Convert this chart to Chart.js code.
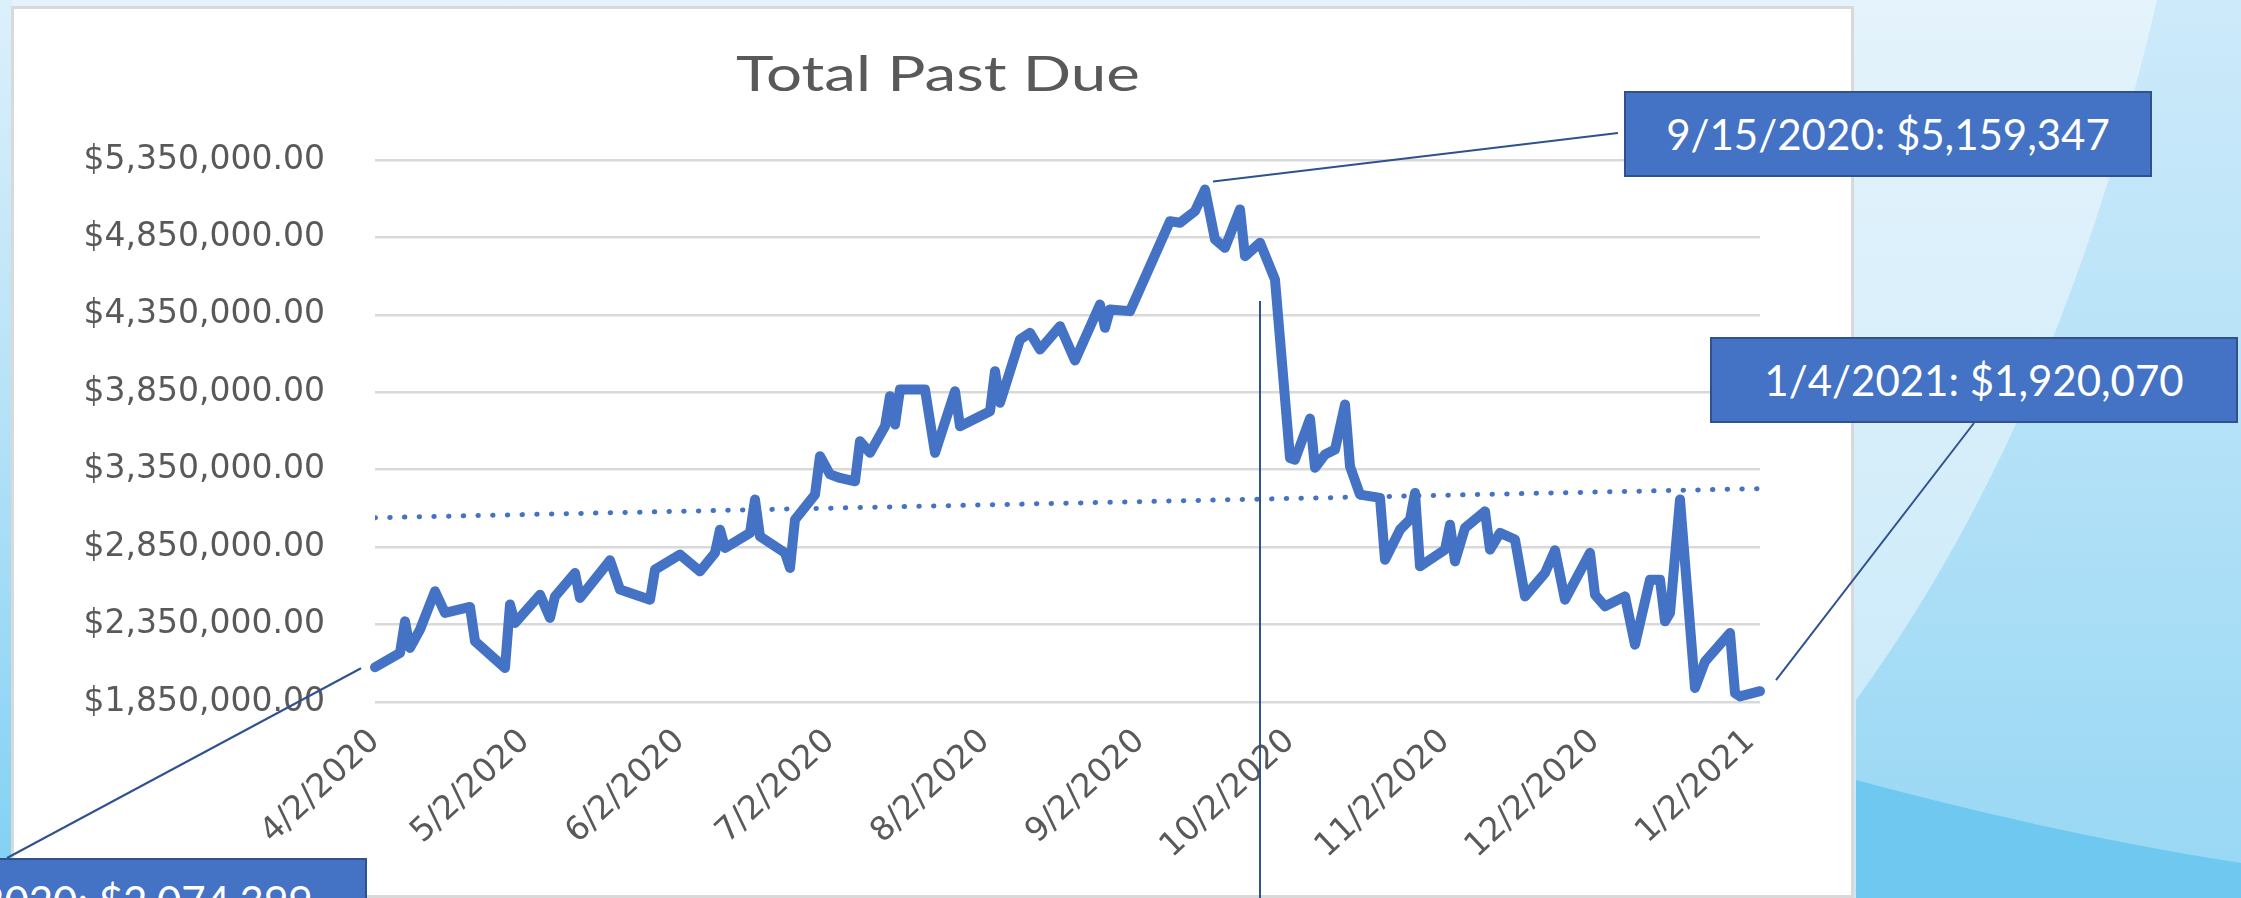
<!DOCTYPE html>
<html>
<head>
<meta charset="utf-8">
<script src="https://cdn.jsdelivr.net/npm/chart.js@4.4.1/dist/chart.umd.min.js"></script>
<style>
html,body{margin:0;padding:0;}
body{width:2241px;height:898px;overflow:hidden;position:relative;background:linear-gradient(180deg,#e4f3fc 0%,#d6eefa 50%,#c6e8f9 100%);font-family:Lato,sans-serif;}
#bg{position:absolute;left:0;top:0;}
#panel{position:absolute;left:11px;top:6px;width:1843px;height:892px;background:#fff;border:3px solid #d9d9d9;box-sizing:border-box;}
#c{position:absolute;left:0;top:0;}
#title{position:absolute;left:938px;top:48px;font-family:Lato,sans-serif;font-size:49px;line-height:49px;color:#595959;white-space:nowrap;transform:translateX(-50%) scaleX(1.3);}
.box{position:absolute;width:528px;height:86px;background:#4472C4;border:2px solid #2F528F;box-sizing:border-box;color:#fff;font-family:Lato,sans-serif;font-size:42px;display:flex;align-items:center;justify-content:center;white-space:nowrap;}
</style>
</head>
<body>
<svg id="bg" width="2241" height="898">
  <defs>
    <linearGradient id="leftStrip" x1="0" y1="0" x2="0" y2="1">
      <stop offset="0" stop-color="#dcf0fb"/>
      <stop offset="0.45" stop-color="#b6e2f7"/>
      <stop offset="1" stop-color="#7fd0f3"/>
    </linearGradient>
    <linearGradient id="midBlue" x1="0" y1="0" x2="0" y2="1">
      <stop offset="0" stop-color="#cdeafa"/>
      <stop offset="0.5" stop-color="#b3e1f7"/>
      <stop offset="1" stop-color="#97d7f4"/>
    </linearGradient>
  </defs>
  <rect x="0" y="0" width="12" height="898" fill="url(#leftStrip)"/>
  <path d="M2157 0 Q2060 420 1856 700 L1856 898 L2241 898 L2241 0 Z" fill="url(#midBlue)"/>
  <path d="M1856 780 Q2060 835 2241 863 L2241 898 L1856 898 Z" fill="#6ec8ef"/>
</svg>
<div id="panel"></div>
<canvas id="c" width="2241" height="898"></canvas>
<div id="title">Total Past Due</div>
<div class="box" style="left:1624px;top:91px;">9/15/2020: $5,159,347</div>
<div class="box" style="left:1710px;top:337px;">1/4/2021: $1,920,070</div>
<div class="box" style="left:-161px;top:858px;">4/2/2020: $2,074,399</div>
<script>
// ---- data ----
const dates = ['4/2/2020','4/7/2020','4/8/2020','4/9/2020','4/11/2020','4/14/2020','4/16/2020','4/21/2020','4/22/2020','4/28/2020','4/29/2020','4/30/2020',
'5/5/2020','5/7/2020','5/8/2020','5/12/2020','5/13/2020','5/19/2020','5/21/2020','5/27/2020','5/28/2020',
'6/2/2020','6/6/2020','6/9/2020','6/10/2020','6/11/2020','6/16/2020','6/17/2020','6/18/2020','6/23/2020','6/24/2020','6/25/2020','6/29/2020','6/30/2020',
'7/2/2020','7/4/2020','7/7/2020','7/8/2020','7/10/2020','7/13/2020','7/14/2020','7/15/2020','7/16/2020','7/21/2020','7/23/2020','7/27/2020','7/28/2020',
'8/3/2020','8/4/2020','8/5/2020','8/9/2020','8/11/2020','8/13/2020','8/17/2020','8/20/2020','8/25/2020','8/26/2020','8/27/2020','8/31/2020',
'9/8/2020','9/10/2020','9/13/2020','9/15/2020','9/17/2020','9/19/2020','9/22/2020','9/23/2020','9/26/2020','9/29/2020',
'10/2/2020','10/3/2020','10/6/2020','10/7/2020','10/9/2020','10/11/2020','10/13/2020','10/14/2020','10/16/2020','10/20/2020','10/21/2020','10/24/2020','10/26/2020','10/27/2020','10/28/2020',
'11/2/2020','11/3/2020','11/4/2020','11/6/2020','11/10/2020','11/11/2020','11/13/2020','11/16/2020','11/18/2020','11/22/2020','11/24/2020','11/26/2020',
'12/1/2020','12/2/2020','12/4/2020','12/8/2020','12/10/2020','12/13/2020','12/15/2020','12/16/2020','12/17/2020','12/19/2020','12/22/2020','12/24/2020','12/29/2020','12/30/2020','12/31/2020',
'1/4/2021'];
const values = [2074399,2167000,2371000,2199000,2317000,2565000,2425000,2464000,2242000,2070000,2479000,2360000,
2543000,2393000,2532000,2683000,2522000,2765000,2576000,2511000,2705000,
2802000,2694000,2813000,2963000,2845000,2942000,3157000,2920000,2813000,2716000,3028000,3189000,3437000,
3320000,3297000,3275000,3534000,3459000,3631000,3825000,3642000,3868000,3868000,3459000,3857000,3631000,
3727000,3986000,3782000,4191000,4234000,4126000,4277000,4055000,4417000,4266000,4385000,4374000,
4955000,4945000,5020000,5159347,4837000,4783000,5031000,4729000,4816000,4578000,
3426000,3415000,3680000,3362000,3448000,3480000,3771000,3372000,3189000,3168000,2769000,2963000,3028000,3200000,2726000,
2834000,2995000,2758000,2974000,3081000,2834000,2942000,2899000,2532000,2683000,2830000,2511000,
2813000,2543000,2468000,2532000,2220000,2640000,2640000,2371000,2425000,3157000,1940000,2112000,2296000,1908000,1886000,
1920070];
const trendDates = ['4/2/2020','1/4/2021'];
const trendValues = [3040000,3228000];
const xTickLabels = ['4/2/2020','5/2/2020','6/2/2020','7/2/2020','8/2/2020','9/2/2020','10/2/2020','11/2/2020','12/2/2020','1/2/2021'];
const yTickValues = [1850000,2350000,2850000,3350000,3850000,4350000,4850000,5350000];
// callout leader lines: data point (date,value) -> callout box
const leaders = [
  {date:'9/15/2020', value:5159347, dx:8, dy:-8, toX:1618, toY:133},
  {date:'1/4/2021', value:1920070, dx:16, dy:-11, toX:1974, toY:423},
  {date:'4/2/2020', value:2074399, dx:-14, dy:1, toX:7, toY:858},
  {date:'9/26/2020', value:4440000, dx:0, dy:0, toX:null, toY:898}
];

function parseMDY(s){const p=s.split('/').map(Number);return Date.UTC(p[2],p[0]-1,p[1]);}
const t0 = parseMDY(dates[0]);
function dayOf(s){return Math.round((parseMDY(s)-t0)/86400000);}
function fmtMoney(v){return '$'+Math.round(v).toString().replace(/\B(?=(\d{3})+(?!\d))/g,',')+'.00';}

const leaderPlugin = {
  id:'leaders',
  afterDraw(chart){
    const {ctx} = chart; const xs = chart.scales.x, ys = chart.scales.y;
    ctx.save();
    ctx.strokeStyle = '#2F528F'; ctx.lineWidth = 2;
    leaders.forEach(l=>{
      const px = xs.getPixelForValue(dayOf(l.date)) + l.dx;
      const py = ys.getPixelForValue(l.value) + l.dy;
      ctx.beginPath(); ctx.moveTo(px,py); ctx.lineTo(l.toX===null?px:l.toX, l.toY); ctx.stroke();
    });
    ctx.restore();
  }
};

new Chart(document.getElementById('c'), {
  type:'line',
  data:{datasets:[
    {label:'Total Past Due', data:dates.map((d,i)=>({x:dayOf(d),y:values[i]})), borderColor:'#4472C4', backgroundColor:'#4472C4',
     borderWidth:10, pointRadius:0, tension:0, borderJoinStyle:'round', borderCapStyle:'round', order:1, clip:8},
    {label:'Linear (Total Past Due)', data:trendDates.map((d,i)=>({x:dayOf(d),y:trendValues[i]})), borderColor:'#4472C4',
     borderWidth:5, borderDash:[0.5,14.2], borderCapStyle:'round', pointRadius:0, order:2}
  ]},
  options:{
    responsive:false, animation:false, devicePixelRatio:1,
    layout:{padding:{left:0,top:160,right:481,bottom:0}},
    plugins:{legend:{display:false}, tooltip:{enabled:false}, title:{display:false}},
    scales:{
      x:{type:'linear', min:0, max:dayOf(dates[dates.length-1]),
        afterBuildTicks:s=>{s.ticks = xTickLabels.map(l=>({value:dayOf(l)}));},
        afterFit:s=>{s.height = 196;},
        grid:{display:false, drawTicks:false}, border:{display:false},
        ticks:{autoSkip:false, minRotation:43, maxRotation:43, padding:20, color:'#595959',
          font:{family:'DejaVu Sans', size:33}, callback:(v,i)=>xTickLabels[i]}
      },
      y:{min:yTickValues[0], max:yTickValues[yTickValues.length-1],
        afterBuildTicks:s=>{s.ticks = yTickValues.map(v=>({value:v}));},
        afterFit:s=>{s.width = 375;},
        grid:{color:'#d9d9d9', lineWidth:2.5, drawTicks:false}, border:{display:false},
        ticks:{padding:50, color:'#595959', font:{family:'DejaVu Sans', size:33}, callback:v=>fmtMoney(v)}
      }
    }
  },
  plugins:[leaderPlugin]
});
</script>
</body>
</html>
